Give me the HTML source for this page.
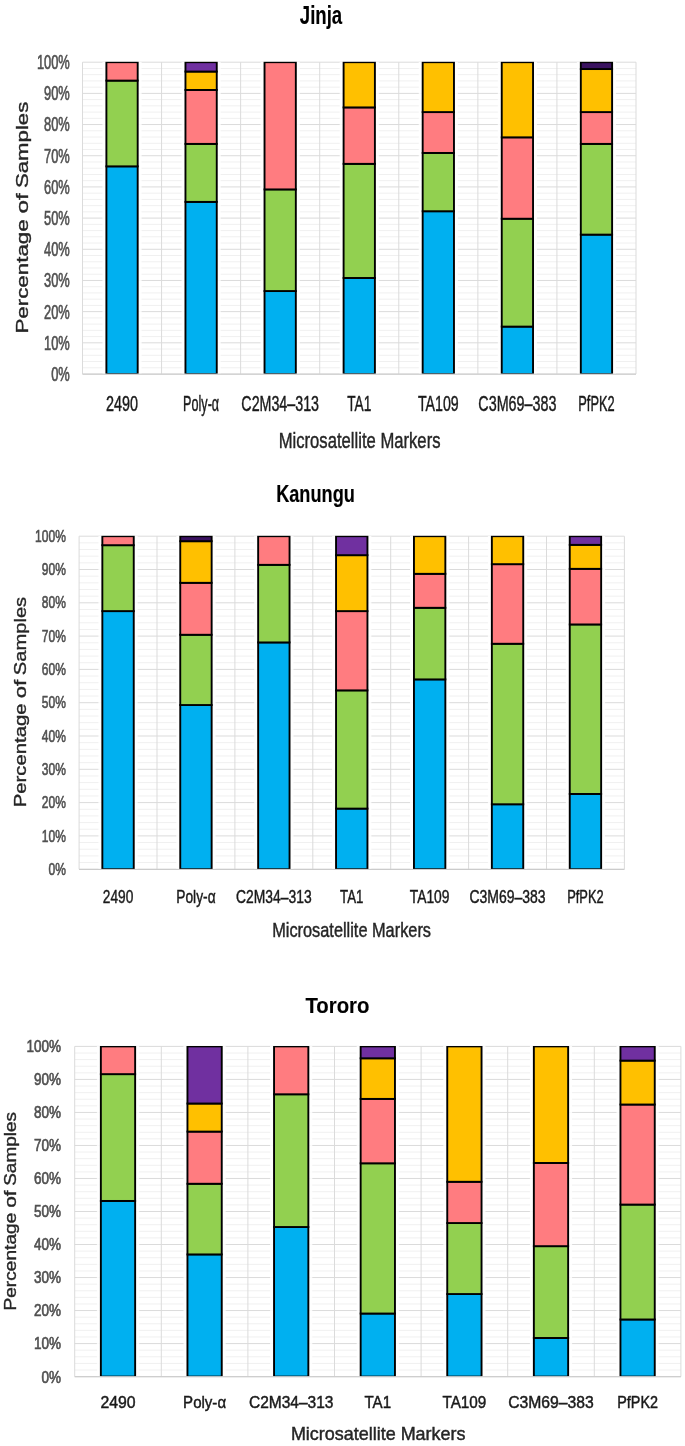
<!DOCTYPE html>
<html><head><meta charset="utf-8"><title>Microsatellite markers</title>
<style>
html,body{margin:0;padding:0;background:#fff;}
body{width:685px;height:1446px;overflow:hidden;}
svg{display:block;filter:blur(0.55px);}
text{font-family:"Liberation Sans",sans-serif;}
</style></head><body>
<svg width="685" height="1446" viewBox="0 0 685 1446">
<rect x="0" y="0" width="685" height="1446" fill="#ffffff"/>
<g><!-- Jinja -->
<clipPath id="clipJinja"><rect x="80.5" y="61.8" width="557.5" height="311.9"/></clipPath>
<path d="M82.5 367.76H636M82.5 361.53H636M82.5 355.29H636M82.5 349.06H636M82.5 336.58H636M82.5 330.35H636M82.5 324.11H636M82.5 317.88H636M82.5 305.4H636M82.5 299.17H636M82.5 292.93H636M82.5 286.7H636M82.5 274.22H636M82.5 267.99H636M82.5 261.75H636M82.5 255.52H636M82.5 243.04H636M82.5 236.81H636M82.5 230.57H636M82.5 224.34H636M82.5 211.86H636M82.5 205.63H636M82.5 199.39H636M82.5 193.16H636M82.5 180.68H636M82.5 174.45H636M82.5 168.21H636M82.5 161.98H636M82.5 149.5H636M82.5 143.27H636M82.5 137.03H636M82.5 130.8H636M82.5 118.32H636M82.5 112.09H636M82.5 105.85H636M82.5 99.62H636M82.5 87.14H636M82.5 80.91H636M82.5 74.67H636M82.5 68.44H636" stroke="#f0f0f0" stroke-width="1" fill="none"/>
<path d="M82.5 374H636M82.5 342.82H636M82.5 311.64H636M82.5 280.46H636M82.5 249.28H636M82.5 218.1H636M82.5 186.92H636M82.5 155.74H636M82.5 124.56H636M82.5 93.38H636M82.5 62.2H636M82.5 62.2V374M161.57 62.2V374M240.64 62.2V374M319.71 62.2V374M398.79 62.2V374M477.86 62.2V374M556.93 62.2V374M636 62.2V374" stroke="#dbdbdb" stroke-width="1" fill="none"/>
<g clip-path="url(#clipJinja)">
<rect x="102.44" y="61.7" width="39.2" height="313.3" fill="#fff" opacity="0.85"/>
<rect x="106.39" y="166.34" width="31.3" height="207.66" fill="#00B0F0" stroke="#000" stroke-width="1.9"/>
<rect x="106.39" y="80.6" width="31.3" height="85.75" fill="#92D050" stroke="#000" stroke-width="1.9"/>
<rect x="106.39" y="62.2" width="31.3" height="18.4" fill="#FF7C80" stroke="#000" stroke-width="1.9"/>
<rect x="181.51" y="61.7" width="39.2" height="313.3" fill="#fff" opacity="0.85"/>
<rect x="185.46" y="201.89" width="31.3" height="172.11" fill="#00B0F0" stroke="#000" stroke-width="1.9"/>
<rect x="185.46" y="143.89" width="31.3" height="57.99" fill="#92D050" stroke="#000" stroke-width="1.9"/>
<rect x="185.46" y="89.95" width="31.3" height="53.94" fill="#FF7C80" stroke="#000" stroke-width="1.9"/>
<rect x="185.46" y="71.55" width="31.3" height="18.4" fill="#FFC000" stroke="#000" stroke-width="1.9"/>
<rect x="185.46" y="62.2" width="31.3" height="9.35" fill="#7030A0" stroke="#000" stroke-width="1.9"/>
<rect x="260.58" y="61.7" width="39.2" height="313.3" fill="#fff" opacity="0.85"/>
<rect x="264.53" y="291.06" width="31.3" height="82.94" fill="#00B0F0" stroke="#000" stroke-width="1.9"/>
<rect x="264.53" y="189.41" width="31.3" height="101.65" fill="#92D050" stroke="#000" stroke-width="1.9"/>
<rect x="264.53" y="62.2" width="31.3" height="127.21" fill="#FF7C80" stroke="#000" stroke-width="1.9"/>
<rect x="339.65" y="61.7" width="39.2" height="313.3" fill="#fff" opacity="0.85"/>
<rect x="343.6" y="277.97" width="31.3" height="96.03" fill="#00B0F0" stroke="#000" stroke-width="1.9"/>
<rect x="343.6" y="163.85" width="31.3" height="114.12" fill="#92D050" stroke="#000" stroke-width="1.9"/>
<rect x="343.6" y="107.41" width="31.3" height="56.44" fill="#FF7C80" stroke="#000" stroke-width="1.9"/>
<rect x="343.6" y="62.2" width="31.3" height="45.21" fill="#FFC000" stroke="#000" stroke-width="1.9"/>
<rect x="418.72" y="61.7" width="39.2" height="313.3" fill="#fff" opacity="0.85"/>
<rect x="422.67" y="211.24" width="31.3" height="162.76" fill="#00B0F0" stroke="#000" stroke-width="1.9"/>
<rect x="422.67" y="152.93" width="31.3" height="58.31" fill="#92D050" stroke="#000" stroke-width="1.9"/>
<rect x="422.67" y="112.09" width="31.3" height="40.85" fill="#FF7C80" stroke="#000" stroke-width="1.9"/>
<rect x="422.67" y="62.2" width="31.3" height="49.89" fill="#FFC000" stroke="#000" stroke-width="1.9"/>
<rect x="497.79" y="61.7" width="39.2" height="313.3" fill="#fff" opacity="0.85"/>
<rect x="501.74" y="326.61" width="31.3" height="47.39" fill="#00B0F0" stroke="#000" stroke-width="1.9"/>
<rect x="501.74" y="218.72" width="31.3" height="107.88" fill="#92D050" stroke="#000" stroke-width="1.9"/>
<rect x="501.74" y="137.34" width="31.3" height="81.38" fill="#FF7C80" stroke="#000" stroke-width="1.9"/>
<rect x="501.74" y="62.2" width="31.3" height="75.14" fill="#FFC000" stroke="#000" stroke-width="1.9"/>
<rect x="576.86" y="61.7" width="39.2" height="313.3" fill="#fff" opacity="0.85"/>
<rect x="580.81" y="234.63" width="31.3" height="139.37" fill="#00B0F0" stroke="#000" stroke-width="1.9"/>
<rect x="580.81" y="143.89" width="31.3" height="90.73" fill="#92D050" stroke="#000" stroke-width="1.9"/>
<rect x="580.81" y="112.09" width="31.3" height="31.8" fill="#FF7C80" stroke="#000" stroke-width="1.9"/>
<rect x="580.81" y="69.06" width="31.3" height="43.03" fill="#FFC000" stroke="#000" stroke-width="1.9"/>
<rect x="580.81" y="62.2" width="31.3" height="6.86" fill="#3a1260" stroke="#000" stroke-width="1.9"/>
</g>
<path d="M82.5 374.2H636" stroke="#c8c8c8" stroke-width="1" fill="none"/>
<text x="51.2" y="380.9" font-size="19.5" textLength="18.6" lengthAdjust="spacingAndGlyphs" font-weight="normal" fill="#505050" stroke="#505050" stroke-width="0.65">0%</text>
<text x="44.05" y="349.72" font-size="19.5" textLength="25.75" lengthAdjust="spacingAndGlyphs" font-weight="normal" fill="#505050" stroke="#505050" stroke-width="0.65">10%</text>
<text x="44.05" y="318.54" font-size="19.5" textLength="25.75" lengthAdjust="spacingAndGlyphs" font-weight="normal" fill="#505050" stroke="#505050" stroke-width="0.65">20%</text>
<text x="44.05" y="287.36" font-size="19.5" textLength="25.75" lengthAdjust="spacingAndGlyphs" font-weight="normal" fill="#505050" stroke="#505050" stroke-width="0.65">30%</text>
<text x="44.05" y="256.18" font-size="19.5" textLength="25.75" lengthAdjust="spacingAndGlyphs" font-weight="normal" fill="#505050" stroke="#505050" stroke-width="0.65">40%</text>
<text x="44.05" y="225" font-size="19.5" textLength="25.75" lengthAdjust="spacingAndGlyphs" font-weight="normal" fill="#505050" stroke="#505050" stroke-width="0.65">50%</text>
<text x="44.05" y="193.82" font-size="19.5" textLength="25.75" lengthAdjust="spacingAndGlyphs" font-weight="normal" fill="#505050" stroke="#505050" stroke-width="0.65">60%</text>
<text x="44.05" y="162.64" font-size="19.5" textLength="25.75" lengthAdjust="spacingAndGlyphs" font-weight="normal" fill="#505050" stroke="#505050" stroke-width="0.65">70%</text>
<text x="44.05" y="131.46" font-size="19.5" textLength="25.75" lengthAdjust="spacingAndGlyphs" font-weight="normal" fill="#505050" stroke="#505050" stroke-width="0.65">80%</text>
<text x="44.05" y="100.28" font-size="19.5" textLength="25.75" lengthAdjust="spacingAndGlyphs" font-weight="normal" fill="#505050" stroke="#505050" stroke-width="0.65">90%</text>
<text x="36.89" y="69.1" font-size="19.5" textLength="32.91" lengthAdjust="spacingAndGlyphs" font-weight="normal" fill="#505050" stroke="#505050" stroke-width="0.65">100%</text>
<text x="105.99" y="410.9" font-size="22" textLength="32.1" lengthAdjust="spacingAndGlyphs" font-weight="normal" fill="#1a1a1a" stroke="#1a1a1a" stroke-width="0.45">2490</text>
<text x="183.11" y="410.9" font-size="22" textLength="36" lengthAdjust="spacingAndGlyphs" font-weight="normal" fill="#1a1a1a" stroke="#1a1a1a" stroke-width="0.45">Poly-α</text>
<text x="241.33" y="410.9" font-size="22" textLength="77.7" lengthAdjust="spacingAndGlyphs" font-weight="normal" fill="#1a1a1a" stroke="#1a1a1a" stroke-width="0.45">C2M34–313</text>
<text x="347.25" y="410.9" font-size="22" textLength="24" lengthAdjust="spacingAndGlyphs" font-weight="normal" fill="#1a1a1a" stroke="#1a1a1a" stroke-width="0.45">TA1</text>
<text x="417.97" y="410.9" font-size="22" textLength="40.7" lengthAdjust="spacingAndGlyphs" font-weight="normal" fill="#1a1a1a" stroke="#1a1a1a" stroke-width="0.45">TA109</text>
<text x="478.34" y="410.9" font-size="22" textLength="78.1" lengthAdjust="spacingAndGlyphs" font-weight="normal" fill="#1a1a1a" stroke="#1a1a1a" stroke-width="0.45">C3M69–383</text>
<text x="578.26" y="410.9" font-size="22" textLength="36.4" lengthAdjust="spacingAndGlyphs" font-weight="normal" fill="#1a1a1a" stroke="#1a1a1a" stroke-width="0.45">PfPK2</text>
<text x="278.7" y="448" font-size="22.5" textLength="161.8" lengthAdjust="spacingAndGlyphs" font-weight="normal" fill="#262626" stroke="#262626" stroke-width="0.45">Microsatellite Markers</text>
<text x="299.8" y="24" font-size="26.5" textLength="42.4" lengthAdjust="spacingAndGlyphs" font-weight="bold" fill="#000" stroke="#000" stroke-width="0.15">Jinja</text>
<g transform="translate(28 217.6) rotate(-90)"><text x="-116" y="0" font-size="16" textLength="114.31" lengthAdjust="spacingAndGlyphs" font-weight="normal" fill="#262626" stroke="#262626" stroke-width="0.35">Percentage</text>
<text x="4.04" y="0" font-size="16" textLength="20.32" lengthAdjust="spacingAndGlyphs" font-weight="normal" fill="#262626" stroke="#262626" stroke-width="0.35">of</text>
<text x="29.6" y="0" font-size="16" textLength="86.3" lengthAdjust="spacingAndGlyphs" font-weight="normal" fill="#262626" stroke="#262626" stroke-width="0.35">Samples</text>
</g>
</g>
<g><!-- Kanungu -->
<clipPath id="clipKanungu"><rect x="77.1" y="535.8" width="549.3" height="333.1"/></clipPath>
<path d="M79.1 862.54H624.4M79.1 855.88H624.4M79.1 849.22H624.4M79.1 842.56H624.4M79.1 829.24H624.4M79.1 822.58H624.4M79.1 815.92H624.4M79.1 809.26H624.4M79.1 795.94H624.4M79.1 789.28H624.4M79.1 782.62H624.4M79.1 775.96H624.4M79.1 762.64H624.4M79.1 755.98H624.4M79.1 749.32H624.4M79.1 742.66H624.4M79.1 729.34H624.4M79.1 722.68H624.4M79.1 716.02H624.4M79.1 709.36H624.4M79.1 696.04H624.4M79.1 689.38H624.4M79.1 682.72H624.4M79.1 676.06H624.4M79.1 662.74H624.4M79.1 656.08H624.4M79.1 649.42H624.4M79.1 642.76H624.4M79.1 629.44H624.4M79.1 622.78H624.4M79.1 616.12H624.4M79.1 609.46H624.4M79.1 596.14H624.4M79.1 589.48H624.4M79.1 582.82H624.4M79.1 576.16H624.4M79.1 562.84H624.4M79.1 556.18H624.4M79.1 549.52H624.4M79.1 542.86H624.4" stroke="#f0f0f0" stroke-width="1" fill="none"/>
<path d="M79.1 869.2H624.4M79.1 835.9H624.4M79.1 802.6H624.4M79.1 769.3H624.4M79.1 736H624.4M79.1 702.7H624.4M79.1 669.4H624.4M79.1 636.1H624.4M79.1 602.8H624.4M79.1 569.5H624.4M79.1 536.2H624.4M79.1 536.2V869.2M157 536.2V869.2M234.9 536.2V869.2M312.8 536.2V869.2M390.7 536.2V869.2M468.6 536.2V869.2M546.5 536.2V869.2M624.4 536.2V869.2" stroke="#dbdbdb" stroke-width="1" fill="none"/>
<g clip-path="url(#clipKanungu)">
<rect x="98.4" y="535.7" width="39.3" height="334.5" fill="#fff" opacity="0.85"/>
<rect x="102.35" y="611.12" width="31.4" height="258.08" fill="#00B0F0" stroke="#000" stroke-width="1.9"/>
<rect x="102.35" y="545.19" width="31.4" height="65.93" fill="#92D050" stroke="#000" stroke-width="1.9"/>
<rect x="102.35" y="536.2" width="31.4" height="8.99" fill="#FF7C80" stroke="#000" stroke-width="1.9"/>
<rect x="176.3" y="535.7" width="39.3" height="334.5" fill="#fff" opacity="0.85"/>
<rect x="180.25" y="705.03" width="31.4" height="164.17" fill="#00B0F0" stroke="#000" stroke-width="1.9"/>
<rect x="180.25" y="634.77" width="31.4" height="70.26" fill="#92D050" stroke="#000" stroke-width="1.9"/>
<rect x="180.25" y="582.82" width="31.4" height="51.95" fill="#FF7C80" stroke="#000" stroke-width="1.9"/>
<rect x="180.25" y="541.2" width="31.4" height="41.62" fill="#FFC000" stroke="#000" stroke-width="1.9"/>
<rect x="180.25" y="536.2" width="31.4" height="5" fill="#3a1260" stroke="#000" stroke-width="1.9"/>
<rect x="254.2" y="535.7" width="39.3" height="334.5" fill="#fff" opacity="0.85"/>
<rect x="258.15" y="642.43" width="31.4" height="226.77" fill="#00B0F0" stroke="#000" stroke-width="1.9"/>
<rect x="258.15" y="564.84" width="31.4" height="77.59" fill="#92D050" stroke="#000" stroke-width="1.9"/>
<rect x="258.15" y="536.2" width="31.4" height="28.64" fill="#FF7C80" stroke="#000" stroke-width="1.9"/>
<rect x="332.1" y="535.7" width="39.3" height="334.5" fill="#fff" opacity="0.85"/>
<rect x="336.05" y="808.59" width="31.4" height="60.61" fill="#00B0F0" stroke="#000" stroke-width="1.9"/>
<rect x="336.05" y="690.38" width="31.4" height="118.22" fill="#92D050" stroke="#000" stroke-width="1.9"/>
<rect x="336.05" y="611.12" width="31.4" height="79.25" fill="#FF7C80" stroke="#000" stroke-width="1.9"/>
<rect x="336.05" y="555.18" width="31.4" height="55.94" fill="#FFC000" stroke="#000" stroke-width="1.9"/>
<rect x="336.05" y="536.2" width="31.4" height="18.98" fill="#7030A0" stroke="#000" stroke-width="1.9"/>
<rect x="410" y="535.7" width="39.3" height="334.5" fill="#fff" opacity="0.85"/>
<rect x="413.95" y="679.39" width="31.4" height="189.81" fill="#00B0F0" stroke="#000" stroke-width="1.9"/>
<rect x="413.95" y="607.8" width="31.4" height="71.6" fill="#92D050" stroke="#000" stroke-width="1.9"/>
<rect x="413.95" y="573.83" width="31.4" height="33.97" fill="#FF7C80" stroke="#000" stroke-width="1.9"/>
<rect x="413.95" y="536.2" width="31.4" height="37.63" fill="#FFC000" stroke="#000" stroke-width="1.9"/>
<rect x="487.9" y="535.7" width="39.3" height="334.5" fill="#fff" opacity="0.85"/>
<rect x="491.85" y="804.27" width="31.4" height="64.93" fill="#00B0F0" stroke="#000" stroke-width="1.9"/>
<rect x="491.85" y="643.76" width="31.4" height="160.51" fill="#92D050" stroke="#000" stroke-width="1.9"/>
<rect x="491.85" y="564.17" width="31.4" height="79.59" fill="#FF7C80" stroke="#000" stroke-width="1.9"/>
<rect x="491.85" y="536.2" width="31.4" height="27.97" fill="#FFC000" stroke="#000" stroke-width="1.9"/>
<rect x="565.8" y="535.7" width="39.3" height="334.5" fill="#fff" opacity="0.85"/>
<rect x="569.75" y="793.94" width="31.4" height="75.26" fill="#00B0F0" stroke="#000" stroke-width="1.9"/>
<rect x="569.75" y="624.45" width="31.4" height="169.5" fill="#92D050" stroke="#000" stroke-width="1.9"/>
<rect x="569.75" y="568.83" width="31.4" height="55.61" fill="#FF7C80" stroke="#000" stroke-width="1.9"/>
<rect x="569.75" y="544.86" width="31.4" height="23.98" fill="#FFC000" stroke="#000" stroke-width="1.9"/>
<rect x="569.75" y="536.2" width="31.4" height="8.66" fill="#7030A0" stroke="#000" stroke-width="1.9"/>
</g>
<path d="M79.1 869.4H624.4" stroke="#c8c8c8" stroke-width="1" fill="none"/>
<text x="48.5" y="874.8" font-size="17.2" textLength="17.4" lengthAdjust="spacingAndGlyphs" font-weight="normal" fill="#505050" stroke="#505050" stroke-width="0.65">0%</text>
<text x="41.81" y="841.5" font-size="17.2" textLength="24.09" lengthAdjust="spacingAndGlyphs" font-weight="normal" fill="#505050" stroke="#505050" stroke-width="0.65">10%</text>
<text x="41.81" y="808.2" font-size="17.2" textLength="24.09" lengthAdjust="spacingAndGlyphs" font-weight="normal" fill="#505050" stroke="#505050" stroke-width="0.65">20%</text>
<text x="41.81" y="774.9" font-size="17.2" textLength="24.09" lengthAdjust="spacingAndGlyphs" font-weight="normal" fill="#505050" stroke="#505050" stroke-width="0.65">30%</text>
<text x="41.81" y="741.6" font-size="17.2" textLength="24.09" lengthAdjust="spacingAndGlyphs" font-weight="normal" fill="#505050" stroke="#505050" stroke-width="0.65">40%</text>
<text x="41.81" y="708.3" font-size="17.2" textLength="24.09" lengthAdjust="spacingAndGlyphs" font-weight="normal" fill="#505050" stroke="#505050" stroke-width="0.65">50%</text>
<text x="41.81" y="675" font-size="17.2" textLength="24.09" lengthAdjust="spacingAndGlyphs" font-weight="normal" fill="#505050" stroke="#505050" stroke-width="0.65">60%</text>
<text x="41.81" y="641.7" font-size="17.2" textLength="24.09" lengthAdjust="spacingAndGlyphs" font-weight="normal" fill="#505050" stroke="#505050" stroke-width="0.65">70%</text>
<text x="41.81" y="608.4" font-size="17.2" textLength="24.09" lengthAdjust="spacingAndGlyphs" font-weight="normal" fill="#505050" stroke="#505050" stroke-width="0.65">80%</text>
<text x="41.81" y="575.1" font-size="17.2" textLength="24.09" lengthAdjust="spacingAndGlyphs" font-weight="normal" fill="#505050" stroke="#505050" stroke-width="0.65">90%</text>
<text x="35.11" y="541.8" font-size="17.2" textLength="30.79" lengthAdjust="spacingAndGlyphs" font-weight="normal" fill="#505050" stroke="#505050" stroke-width="0.65">100%</text>
<text x="102.8" y="902.9" font-size="18.3" textLength="30.5" lengthAdjust="spacingAndGlyphs" font-weight="normal" fill="#1a1a1a" stroke="#1a1a1a" stroke-width="0.45">2490</text>
<text x="176.3" y="902.9" font-size="18.3" textLength="39.3" lengthAdjust="spacingAndGlyphs" font-weight="normal" fill="#1a1a1a" stroke="#1a1a1a" stroke-width="0.45">Poly-α</text>
<text x="236.1" y="902.9" font-size="18.3" textLength="75.5" lengthAdjust="spacingAndGlyphs" font-weight="normal" fill="#1a1a1a" stroke="#1a1a1a" stroke-width="0.45">C2M34–313</text>
<text x="340.1" y="902.9" font-size="18.3" textLength="23.3" lengthAdjust="spacingAndGlyphs" font-weight="normal" fill="#1a1a1a" stroke="#1a1a1a" stroke-width="0.45">TA1</text>
<text x="409.8" y="902.9" font-size="18.3" textLength="39.7" lengthAdjust="spacingAndGlyphs" font-weight="normal" fill="#1a1a1a" stroke="#1a1a1a" stroke-width="0.45">TA109</text>
<text x="469.45" y="902.9" font-size="18.3" textLength="76.2" lengthAdjust="spacingAndGlyphs" font-weight="normal" fill="#1a1a1a" stroke="#1a1a1a" stroke-width="0.45">C3M69–383</text>
<text x="567.2" y="902.9" font-size="18.3" textLength="36.5" lengthAdjust="spacingAndGlyphs" font-weight="normal" fill="#1a1a1a" stroke="#1a1a1a" stroke-width="0.45">PfPK2</text>
<text x="272.2" y="936.5" font-size="20.5" textLength="158.8" lengthAdjust="spacingAndGlyphs" font-weight="normal" fill="#262626" stroke="#262626" stroke-width="0.45">Microsatellite Markers</text>
<text x="276.15" y="502" font-size="24" textLength="78.7" lengthAdjust="spacingAndGlyphs" font-weight="bold" fill="#000" stroke="#000" stroke-width="0.15">Kanungu</text>
<g transform="translate(26 702) rotate(-90)"><text x="-105.25" y="0" font-size="16.2" textLength="103.71" lengthAdjust="spacingAndGlyphs" font-weight="normal" fill="#262626" stroke="#262626" stroke-width="0.35">Percentage</text>
<text x="3.66" y="0" font-size="16.2" textLength="18.44" lengthAdjust="spacingAndGlyphs" font-weight="normal" fill="#262626" stroke="#262626" stroke-width="0.35">of</text>
<text x="26.86" y="0" font-size="16.2" textLength="78.31" lengthAdjust="spacingAndGlyphs" font-weight="normal" fill="#262626" stroke="#262626" stroke-width="0.35">Samples</text>
</g>
</g>
<g><!-- Tororo -->
<clipPath id="clipTororo"><rect x="72.7" y="1046" width="610.2" height="330.3"/></clipPath>
<path d="M74.7 1370H680.9M74.7 1363.39H680.9M74.7 1356.79H680.9M74.7 1350.18H680.9M74.7 1336.98H680.9M74.7 1330.37H680.9M74.7 1323.77H680.9M74.7 1317.16H680.9M74.7 1303.96H680.9M74.7 1297.35H680.9M74.7 1290.75H680.9M74.7 1284.14H680.9M74.7 1270.94H680.9M74.7 1264.33H680.9M74.7 1257.73H680.9M74.7 1251.12H680.9M74.7 1237.92H680.9M74.7 1231.31H680.9M74.7 1224.71H680.9M74.7 1218.1H680.9M74.7 1204.9H680.9M74.7 1198.29H680.9M74.7 1191.69H680.9M74.7 1185.08H680.9M74.7 1171.88H680.9M74.7 1165.27H680.9M74.7 1158.67H680.9M74.7 1152.06H680.9M74.7 1138.86H680.9M74.7 1132.25H680.9M74.7 1125.65H680.9M74.7 1119.04H680.9M74.7 1105.84H680.9M74.7 1099.23H680.9M74.7 1092.63H680.9M74.7 1086.02H680.9M74.7 1072.82H680.9M74.7 1066.21H680.9M74.7 1059.61H680.9M74.7 1053H680.9" stroke="#f0f0f0" stroke-width="1" fill="none"/>
<path d="M74.7 1376.6H680.9M74.7 1343.58H680.9M74.7 1310.56H680.9M74.7 1277.54H680.9M74.7 1244.52H680.9M74.7 1211.5H680.9M74.7 1178.48H680.9M74.7 1145.46H680.9M74.7 1112.44H680.9M74.7 1079.42H680.9M74.7 1046.4H680.9M74.7 1046.4V1376.6M161.3 1046.4V1376.6M247.9 1046.4V1376.6M334.5 1046.4V1376.6M421.1 1046.4V1376.6M507.7 1046.4V1376.6M594.3 1046.4V1376.6M680.9 1046.4V1376.6" stroke="#dbdbdb" stroke-width="1" fill="none"/>
<g clip-path="url(#clipTororo)">
<rect x="96.9" y="1045.9" width="42.2" height="331.7" fill="#fff" opacity="0.85"/>
<rect x="100.85" y="1200.93" width="34.3" height="175.67" fill="#00B0F0" stroke="#000" stroke-width="1.9"/>
<rect x="100.85" y="1074.14" width="34.3" height="126.8" fill="#92D050" stroke="#000" stroke-width="1.9"/>
<rect x="100.85" y="1046.4" width="34.3" height="27.74" fill="#FF7C80" stroke="#000" stroke-width="1.9"/>
<rect x="183.5" y="1045.9" width="42.2" height="331.7" fill="#fff" opacity="0.85"/>
<rect x="187.45" y="1254.43" width="34.3" height="122.17" fill="#00B0F0" stroke="#000" stroke-width="1.9"/>
<rect x="187.45" y="1183.76" width="34.3" height="70.66" fill="#92D050" stroke="#000" stroke-width="1.9"/>
<rect x="187.45" y="1131.59" width="34.3" height="52.17" fill="#FF7C80" stroke="#000" stroke-width="1.9"/>
<rect x="187.45" y="1103.52" width="34.3" height="28.07" fill="#FFC000" stroke="#000" stroke-width="1.9"/>
<rect x="187.45" y="1046.4" width="34.3" height="57.12" fill="#7030A0" stroke="#000" stroke-width="1.9"/>
<rect x="270.1" y="1045.9" width="42.2" height="331.7" fill="#fff" opacity="0.85"/>
<rect x="274.05" y="1227.02" width="34.3" height="149.58" fill="#00B0F0" stroke="#000" stroke-width="1.9"/>
<rect x="274.05" y="1094.28" width="34.3" height="132.74" fill="#92D050" stroke="#000" stroke-width="1.9"/>
<rect x="274.05" y="1046.4" width="34.3" height="47.88" fill="#FF7C80" stroke="#000" stroke-width="1.9"/>
<rect x="356.7" y="1045.9" width="42.2" height="331.7" fill="#fff" opacity="0.85"/>
<rect x="360.65" y="1313.53" width="34.3" height="63.07" fill="#00B0F0" stroke="#000" stroke-width="1.9"/>
<rect x="360.65" y="1163.29" width="34.3" height="150.24" fill="#92D050" stroke="#000" stroke-width="1.9"/>
<rect x="360.65" y="1098.9" width="34.3" height="64.39" fill="#FF7C80" stroke="#000" stroke-width="1.9"/>
<rect x="360.65" y="1058.29" width="34.3" height="40.61" fill="#FFC000" stroke="#000" stroke-width="1.9"/>
<rect x="360.65" y="1046.4" width="34.3" height="11.89" fill="#7030A0" stroke="#000" stroke-width="1.9"/>
<rect x="443.3" y="1045.9" width="42.2" height="331.7" fill="#fff" opacity="0.85"/>
<rect x="447.25" y="1294.05" width="34.3" height="82.55" fill="#00B0F0" stroke="#000" stroke-width="1.9"/>
<rect x="447.25" y="1223.06" width="34.3" height="70.99" fill="#92D050" stroke="#000" stroke-width="1.9"/>
<rect x="447.25" y="1181.78" width="34.3" height="41.27" fill="#FF7C80" stroke="#000" stroke-width="1.9"/>
<rect x="447.25" y="1046.4" width="34.3" height="135.38" fill="#FFC000" stroke="#000" stroke-width="1.9"/>
<rect x="529.9" y="1045.9" width="42.2" height="331.7" fill="#fff" opacity="0.85"/>
<rect x="533.85" y="1337.97" width="34.3" height="38.63" fill="#00B0F0" stroke="#000" stroke-width="1.9"/>
<rect x="533.85" y="1246.17" width="34.3" height="91.8" fill="#92D050" stroke="#000" stroke-width="1.9"/>
<rect x="533.85" y="1162.96" width="34.3" height="83.21" fill="#FF7C80" stroke="#000" stroke-width="1.9"/>
<rect x="533.85" y="1046.4" width="34.3" height="116.56" fill="#FFC000" stroke="#000" stroke-width="1.9"/>
<rect x="616.5" y="1045.9" width="42.2" height="331.7" fill="#fff" opacity="0.85"/>
<rect x="620.45" y="1319.48" width="34.3" height="57.12" fill="#00B0F0" stroke="#000" stroke-width="1.9"/>
<rect x="620.45" y="1204.57" width="34.3" height="114.91" fill="#92D050" stroke="#000" stroke-width="1.9"/>
<rect x="620.45" y="1104.52" width="34.3" height="100.05" fill="#FF7C80" stroke="#000" stroke-width="1.9"/>
<rect x="620.45" y="1060.6" width="34.3" height="43.92" fill="#FFC000" stroke="#000" stroke-width="1.9"/>
<rect x="620.45" y="1046.4" width="34.3" height="14.2" fill="#7030A0" stroke="#000" stroke-width="1.9"/>
</g>
<path d="M74.7 1376.8H680.9" stroke="#c8c8c8" stroke-width="1" fill="none"/>
<text x="41.56" y="1382.5" font-size="16" textLength="19.54" lengthAdjust="spacingAndGlyphs" font-weight="normal" fill="#505050" stroke="#505050" stroke-width="0.65">0%</text>
<text x="34.05" y="1349.4" font-size="16" textLength="27.05" lengthAdjust="spacingAndGlyphs" font-weight="normal" fill="#505050" stroke="#505050" stroke-width="0.65">10%</text>
<text x="34.05" y="1316.3" font-size="16" textLength="27.05" lengthAdjust="spacingAndGlyphs" font-weight="normal" fill="#505050" stroke="#505050" stroke-width="0.65">20%</text>
<text x="34.05" y="1283.2" font-size="16" textLength="27.05" lengthAdjust="spacingAndGlyphs" font-weight="normal" fill="#505050" stroke="#505050" stroke-width="0.65">30%</text>
<text x="34.05" y="1250.1" font-size="16" textLength="27.05" lengthAdjust="spacingAndGlyphs" font-weight="normal" fill="#505050" stroke="#505050" stroke-width="0.65">40%</text>
<text x="34.05" y="1217" font-size="16" textLength="27.05" lengthAdjust="spacingAndGlyphs" font-weight="normal" fill="#505050" stroke="#505050" stroke-width="0.65">50%</text>
<text x="34.05" y="1183.9" font-size="16" textLength="27.05" lengthAdjust="spacingAndGlyphs" font-weight="normal" fill="#505050" stroke="#505050" stroke-width="0.65">60%</text>
<text x="34.05" y="1150.8" font-size="16" textLength="27.05" lengthAdjust="spacingAndGlyphs" font-weight="normal" fill="#505050" stroke="#505050" stroke-width="0.65">70%</text>
<text x="34.05" y="1117.7" font-size="16" textLength="27.05" lengthAdjust="spacingAndGlyphs" font-weight="normal" fill="#505050" stroke="#505050" stroke-width="0.65">80%</text>
<text x="34.05" y="1084.6" font-size="16" textLength="27.05" lengthAdjust="spacingAndGlyphs" font-weight="normal" fill="#505050" stroke="#505050" stroke-width="0.65">90%</text>
<text x="26.53" y="1051.5" font-size="16" textLength="34.57" lengthAdjust="spacingAndGlyphs" font-weight="normal" fill="#505050" stroke="#505050" stroke-width="0.65">100%</text>
<text x="100.4" y="1407.6" font-size="16.2" textLength="35.2" lengthAdjust="spacingAndGlyphs" font-weight="normal" fill="#1a1a1a" stroke="#1a1a1a" stroke-width="0.45">2490</text>
<text x="183.1" y="1407.6" font-size="16.2" textLength="43" lengthAdjust="spacingAndGlyphs" font-weight="normal" fill="#1a1a1a" stroke="#1a1a1a" stroke-width="0.45">Poly-α</text>
<text x="248.95" y="1407.6" font-size="16.2" textLength="84.5" lengthAdjust="spacingAndGlyphs" font-weight="normal" fill="#1a1a1a" stroke="#1a1a1a" stroke-width="0.45">C2M34–313</text>
<text x="364.5" y="1407.6" font-size="16.2" textLength="26.6" lengthAdjust="spacingAndGlyphs" font-weight="normal" fill="#1a1a1a" stroke="#1a1a1a" stroke-width="0.45">TA1</text>
<text x="442.45" y="1407.6" font-size="16.2" textLength="43.9" lengthAdjust="spacingAndGlyphs" font-weight="normal" fill="#1a1a1a" stroke="#1a1a1a" stroke-width="0.45">TA109</text>
<text x="508.2" y="1407.6" font-size="16.2" textLength="85.6" lengthAdjust="spacingAndGlyphs" font-weight="normal" fill="#1a1a1a" stroke="#1a1a1a" stroke-width="0.45">C3M69–383</text>
<text x="617.2" y="1407.6" font-size="16.2" textLength="40.8" lengthAdjust="spacingAndGlyphs" font-weight="normal" fill="#1a1a1a" stroke="#1a1a1a" stroke-width="0.45">PfPK2</text>
<text x="290.9" y="1439.9" font-size="18.5" textLength="174.6" lengthAdjust="spacingAndGlyphs" font-weight="normal" fill="#262626" stroke="#262626" stroke-width="0.45">Microsatellite Markers</text>
<text x="305.4" y="1012.6" font-size="22.3" textLength="64" lengthAdjust="spacingAndGlyphs" font-weight="bold" fill="#000" stroke="#000" stroke-width="0.15">Tororo</text>
<g transform="translate(15.7 1211.2) rotate(-90)"><text x="-99.4" y="0" font-size="16.3" textLength="97.95" lengthAdjust="spacingAndGlyphs" font-weight="normal" fill="#262626" stroke="#262626" stroke-width="0.35">Percentage</text>
<text x="3.46" y="0" font-size="16.3" textLength="17.41" lengthAdjust="spacingAndGlyphs" font-weight="normal" fill="#262626" stroke="#262626" stroke-width="0.35">of</text>
<text x="25.37" y="0" font-size="16.3" textLength="73.95" lengthAdjust="spacingAndGlyphs" font-weight="normal" fill="#262626" stroke="#262626" stroke-width="0.35">Samples</text>
</g>
</g>
</svg>
</body></html>
